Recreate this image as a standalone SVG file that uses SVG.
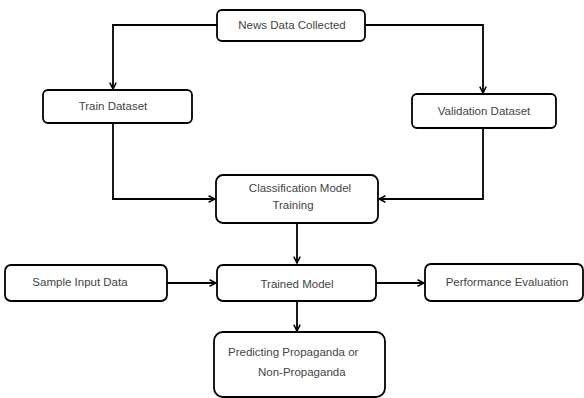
<svg xmlns="http://www.w3.org/2000/svg" width="584" height="398" viewBox="0 0 584 398">
<style>
.box{fill:#fff;stroke:#000;stroke-width:1.8}
.t{font-family:"Liberation Sans",Arial,sans-serif;font-size:11.5px;fill:#444}
.c{text-anchor:middle}
.ln{fill:none;stroke:#000;stroke-width:1.8}
</style>
<defs>
<marker id="ah" viewBox="0 0 10 10" refX="9" refY="5" markerWidth="8" markerHeight="8" markerUnits="userSpaceOnUse" orient="auto">
<path d="M1,1 L9,5 L1,9" fill="none" stroke="#000" stroke-width="1.9"/>
</marker>
</defs>
<rect width="584" height="398" fill="#fff"/>
<g id="connectors">
<path class="ln" d="M217,25 H113 V89" marker-end="url(#ah)"/>
<path class="ln" d="M365,25 H483 V93" marker-end="url(#ah)"/>
<path class="ln" d="M113,123 V199 H215" marker-end="url(#ah)"/>
<path class="ln" d="M483,128 V199 H379" marker-end="url(#ah)"/>
<path class="ln" d="M297,223 V263" marker-end="url(#ah)"/>
<path class="ln" d="M167,283 H216" marker-end="url(#ah)"/>
<path class="ln" d="M376,283 H424" marker-end="url(#ah)"/>
<path class="ln" d="M297,301 V331" marker-end="url(#ah)"/>
</g>
<g id="news">
<rect class="box" x="217" y="10" width="148" height="31" rx="5"/>
<text class="t c" x="292" y="29">News Data Collected</text>
</g>
<g id="train">
<rect class="box" x="43" y="90" width="149" height="33" rx="5"/>
<text class="t c" x="113" y="110">Train Dataset</text>
</g>
<g id="validation">
<rect class="box" x="412" y="94" width="144" height="34" rx="5"/>
<text class="t c" x="484" y="115">Validation Dataset</text>
</g>
<g id="classification">
<rect class="box" x="216" y="175" width="162" height="48" rx="7"/>
<text class="t c" x="300" y="192">Classification Model</text>
<text class="t c" x="293" y="209">Training</text>
</g>
<g id="sample">
<rect class="box" x="5" y="265" width="162" height="36" rx="6"/>
<text class="t c" x="80" y="286">Sample Input Data</text>
</g>
<g id="trained">
<rect class="box" x="217" y="265" width="159" height="36" rx="6"/>
<text class="t c" x="297" y="288">Trained Model</text>
</g>
<g id="performance">
<rect class="box" x="425" y="264" width="158" height="37" rx="6"/>
<text class="t c" x="507" y="286">Performance Evaluation</text>
</g>
<g id="predicting">
<rect class="box" x="214" y="332" width="171" height="65" rx="9"/>
<text class="t" x="228" y="356">Predicting Propaganda or</text>
<text class="t" x="258" y="376">Non-Propaganda</text>
</g>
</svg>
